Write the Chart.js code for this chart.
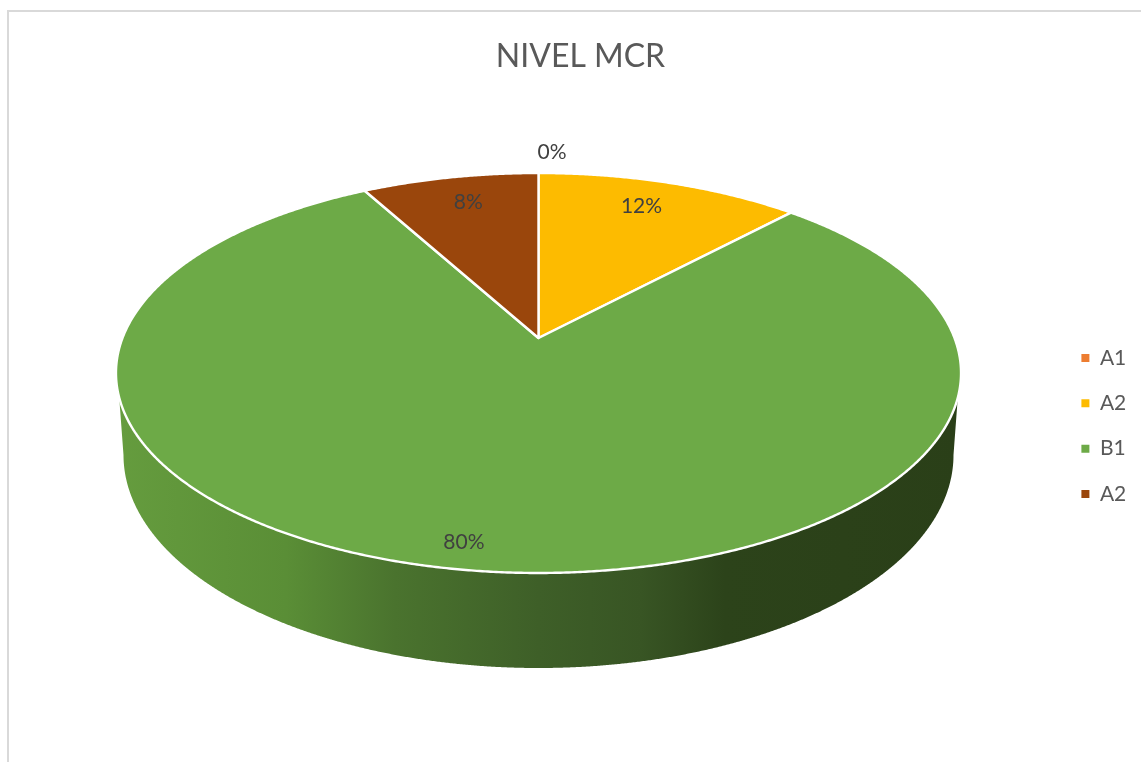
<!DOCTYPE html>
<html>
<head>
<meta charset="utf-8">
<style>
html,body{margin:0;padding:0;background:#fff;width:1141px;height:762px;overflow:hidden}
#frame{position:absolute;left:7px;top:10px;width:1134px;height:752px;border-left:2px solid #d9d9d9;border-top:2px solid #d9d9d9;box-sizing:border-box}
canvas{position:absolute;left:0;top:0}
</style>
<script src="https://cdn.jsdelivr.net/npm/chart.js@4/dist/chart.umd.js"></script>
</head>
<body>
<div id="frame"></div>
<canvas id="c" width="1141" height="762"></canvas>
<script>
const categories = ['A1', 'A2', 'B1', 'A2'];
const values = [0, 12, 80, 8];
const sliceColors = ['#ED7D31', '#FDBB00', '#6DAA47', '#9A460C'];
const labelNudges = [[13.5, -45.5], [-9, 0], [-24, 18], [5, 1]];
const sideStops = [[0, '#659C3E'], [0.2, '#5A8E36'], [0.33, '#4A732E'], [0.5, '#3E5F28'], [0.62, '#385524'], [0.72, '#2C431A'], [1, '#2A3F18']];

// Tilted-disc projection: disc angle (0 = top, clockwise) and radius -> page pixels
const CX = 538.5, APEX = 338, PERSP = -0.175, DEPTH = 134.7, WIDTH = 416;
const BASE = {cy: 455, rx: 415, ry: 213};
const FRONT_FROM = 107 * Math.PI / 180, FRONT_TO = 253 * Math.PI / 180;

function project(theta, r) {
  const sx = Math.sin(theta) * r, sy = -Math.cos(theta) * r;
  const d = 1 + PERSP * sy;
  return [CX + WIDTH * sx / d, (APEX + DEPTH * sy) / d];
}
function basePoint(theta) {
  const t = (theta - FRONT_FROM) / (FRONT_TO - FRONT_FROM) * Math.PI;
  return [CX + BASE.rx * Math.cos(t), BASE.cy + BASE.ry * Math.sin(t)];
}

Chart.ArcElement.prototype.draw = function (ctx) {
  const a = this.startAngle + Math.PI / 2, b = this.endAngle + Math.PI / 2;
  if (b - a < 1e-6) return;
  const o = this.options, steps = Math.max(8, Math.ceil((b - a) * 180));
  // rim below the disc
  const f0 = Math.max(a, FRONT_FROM), f1 = Math.min(b, FRONT_TO);
  if (f1 > f0) {
    const g = ctx.createLinearGradient(117, 0, 961, 0);
    sideStops.forEach(s => g.addColorStop(s[0], s[1]));
    ctx.beginPath();
    for (let i = 0; i <= steps; i++) {
      const p = project(f0 + (f1 - f0) * i / steps, 1);
      i ? ctx.lineTo(p[0], p[1]) : ctx.moveTo(p[0], p[1]);
    }
    for (let i = steps; i >= 0; i--) {
      const p = basePoint(f0 + (f1 - f0) * i / steps);
      ctx.lineTo(p[0], p[1]);
    }
    ctx.closePath();
    ctx.fillStyle = g;
    ctx.fill();
  }
  // top face
  const c = project(0, 0);
  ctx.beginPath();
  ctx.moveTo(c[0], c[1]);
  for (let i = 0; i <= steps; i++) {
    const p = project(a + (b - a) * i / steps, 1);
    ctx.lineTo(p[0], p[1]);
  }
  ctx.closePath();
  ctx.fillStyle = o.backgroundColor;
  ctx.fill();
  ctx.lineJoin = 'round';
  ctx.lineWidth = o.borderWidth;
  ctx.strokeStyle = o.borderColor;
  ctx.stroke();
};

const placement = {
  id: 'placement',
  afterLayout(chart) {
    const t = chart.titleBlock, l = chart.legend;
    t.left += 10; t.right += 10;
    const w = l.right - l.left;
    l.left = 1084 - 27; l.right = l.left + w;
    const h = l.bottom - l.top;
    l.top += 45; l.bottom = l.top + h;
  }
};
const percentLabels = {
  id: 'percentLabels',
  afterDatasetsDraw(chart) {
    const ctx = chart.ctx, total = values.reduce((s, v) => s + v, 0);
    ctx.save();
    ctx.font = '21px Lato';
    ctx.fillStyle = '#404040';
    ctx.textAlign = 'center';
    ctx.textBaseline = 'middle';
    chart.getDatasetMeta(0).data.forEach((arc, i) => {
      const mid = (arc.startAngle + arc.endAngle) / 2 + Math.PI / 2;
      const p = project(mid, 0.83);
      ctx.fillText(Math.round(values[i] / total * 100) + '%', p[0] + labelNudges[i][0], p[1] + labelNudges[i][1]);
    });
    ctx.restore();
  }
};

new Chart(document.getElementById('c'), {
  type: 'pie',
  data: {
    labels: categories,
    datasets: [{data: values, backgroundColor: sliceColors, borderColor: '#ffffff', borderWidth: 2.4}]
  },
  options: {
    responsive: false,
    animation: false,
    plugins: {
      tooltip: {enabled: false},
      title: {display: true, text: 'NIVEL MCR', color: '#595959', font: {family: 'Lato', size: 32, weight: 'normal'}, padding: {top: 37, bottom: 10}},
      legend: {
        position: 'right',
        labels: {
          boxWidth: 8, boxHeight: 8, padding: 24.4, color: '#595959', font: {family: 'Lato', size: 21},
          generateLabels: chart => Chart.overrides.pie.plugins.legend.labels.generateLabels(chart).map(l => ({...l, lineWidth: 0}))
        }
      }
    }
  },
  plugins: [placement, percentLabels]
});
</script>
</body>
</html>
